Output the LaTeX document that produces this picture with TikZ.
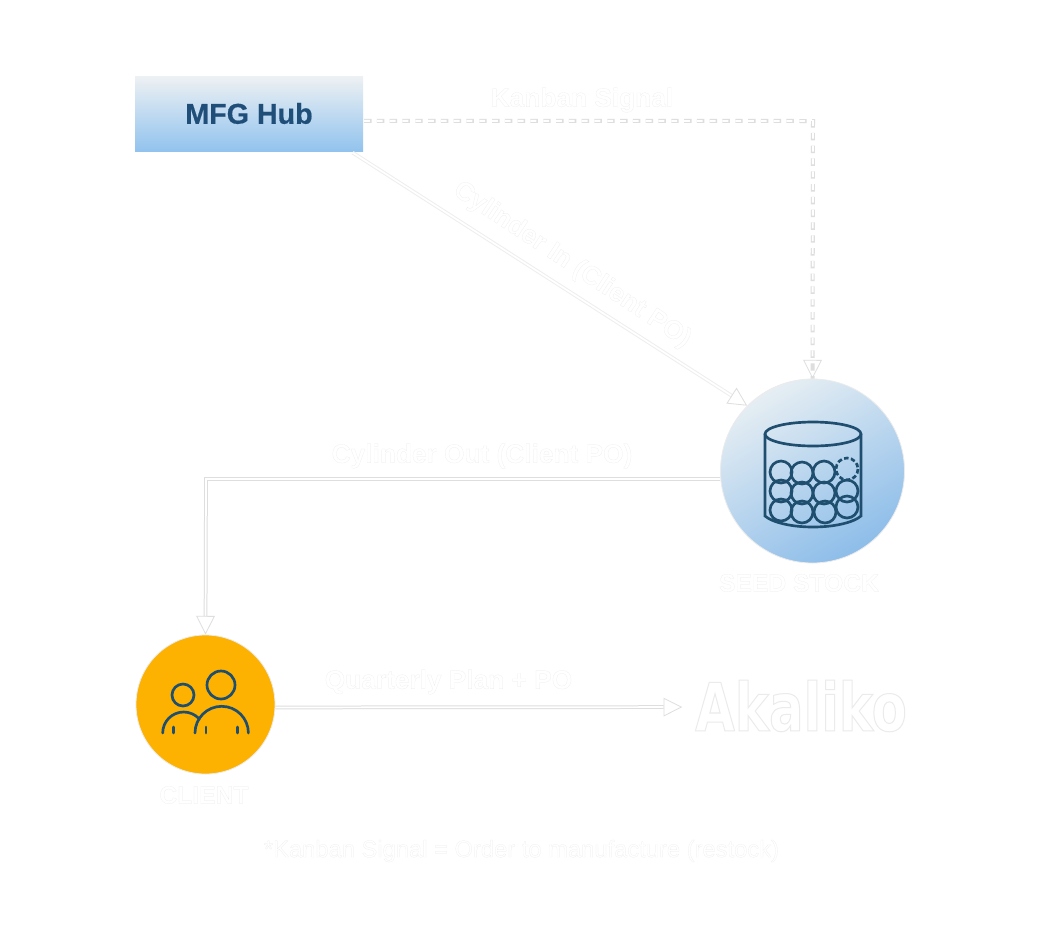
\documentclass[tikz,border=0pt]{standalone}
\usepackage{fontspec}
\usetikzlibrary{arrows.meta,shadings}
\setmainfont{Liberation Sans}
\newfontfamily\halofont[FakeBold=0.7]{Liberation Sans Bold}
\newfontfamily\halothin[FakeBold=0.8]{Liberation Sans}
\newfontfamily\hubfont[FakeBold=0.5]{Liberation Sans Bold}
\newfontfamily\halologo[FakeBold=1.5,FakeStretch=0.77]{DejaVu Sans Bold}
\definecolor{edgegray}{HTML}{DEDEDE}
\definecolor{faintgray}{HTML}{EEEEEE}
\definecolor{navy}{HTML}{1F4E79}
\definecolor{icon}{HTML}{1F4E6F}
\definecolor{gold}{HTML}{FDB100}
\definecolor{hubtop}{HTML}{EEF1F3}
\definecolor{hubbot}{HTML}{92C3EE}
\definecolor{stocklight}{HTML}{E6EEF3}
\definecolor{stockdark}{HTML}{8DBDE9}
\newcommand{\halotxt}[1]{\color{white}\special{pdf:code 0.92 0.92 0.92 RG}#1}
\tikzset{
  lab/.style={inner sep=0pt,font=\halofont\fontsize{19.7pt}{22pt}\selectfont},
  caplab/.style={inner sep=0pt,font=\halofont\fontsize{18.5pt}{22pt}\selectfont},
  solidlink/.style={draw=edgegray,line width=.75pt,double=white,double distance=1.3pt},
  tip/.style={-{Triangle[fill=white,color=edgegray,open,length=14pt,width=14pt,line width=.6pt]}},
  iconline/.style={draw=icon,line width=2pt,line cap=round},
}
\begin{document}
\begin{tikzpicture}[x=0.75pt,y=-0.75pt]
\useasboundingbox[fill=white] (0,0) rectangle (1040,940);
% nodes
\node[rectangle,minimum width=171pt,minimum height=56.25pt,inner sep=0pt,top color=hubtop,bottom color=hubbot,
  font=\hubfont\fontsize{21.5pt}{24pt}\selectfont,text=navy] (hub) at (249,113.5) {MFG Hub};
\node[circle,minimum size=138pt,inner sep=0pt,draw=edgegray!60,line width=.6pt,
  top color=stocklight,bottom color=stockdark,shading angle=30] (stock) at (812.5,471) {};
\node[circle,minimum size=104.25pt,inner sep=0pt,draw=edgegray!60,line width=.6pt,fill=gold] (client) at (205.5,704.5) {};
\node[inner sep=0pt,font=\halologo\fontsize{50pt}{54pt}\selectfont] (akaliko) at (801,706) {\halotxt{Akaliko}};
\node[caplab] (stocklabel) at (799,583) {\halotxt{SEED STOCK}};
\node[caplab] (clientlabel) at (204,795) {\halotxt{CLIENT}};
\node[lab] (kanbanlabel) at (582,100) {\halotxt{Kanban Signal}};
\node[lab,rotate=-33.5] (inlabel) at (572,265) {\halotxt{Cylinder In (Client PO)}};
\node[lab] (outlabel) at (482,456) {\halotxt{Cylinder Out (Client PO)}};
\node[lab] (planlabel) at (448.5,682) {\halotxt{Quarterly Plan + PO}};
\node[inner sep=0pt,font=\halothin\fontsize{17.8pt}{20pt}\selectfont] (footnote) at (521.5,851) {\halotxt{*Kanban Signal = Order to manufacture (restock)}};
% connectors
\draw[solidlink,draw=faintgray,tip] ([xshift=-8pt,yshift=-1pt]hub.south east) -- (stock.135);
\draw[solidlink,tip] ([yshift=-6pt]stock.west) -- (206,479) -- (client.north);
\draw[solidlink,tip] ([yshift=-2.2pt]client.east) -- ([xshift=-9.5pt,yshift=-.8pt]akaliko.west);
\draw[tip,white,line width=1.4pt,dash pattern=on 4.4pt off 5.2pt,dash phase=-.6pt,
  preaction={draw=edgegray,line width=3pt,dash pattern=on 5.6pt off 4pt,-}]
  ([yshift=-5.5pt]hub.east) -- (813,121) -- (stock.north);
% drum
\draw[iconline] (813,434) ellipse [x radius=48,y radius=12];
\draw[iconline] (765,434) -- (765,516) .. controls (772,522) and (790,527) .. (813,527) .. controls (836,527) and (854,522) .. (861,516) -- (861,434);
\foreach \p in {(781,472),(802,473),(824,472),(781,491),(802,493),(824,493),(847,491),(781,510),(802,512),(825,512),(847,507)}
  \draw[iconline] \p circle [radius=11];
\draw[iconline,dash pattern=on 3.4pt off 1.8pt,line cap=butt] (847,469) circle [radius=11];
% people
\draw[iconline] (183,695) circle [radius=11];
\draw[iconline] (221,685) circle [radius=14];
\draw[iconline] (195,733) arc [start angle=180,end angle=360,radius=26.7];
\draw[iconline] (162.7,733) arc [start angle=180,end angle=318,radius=21];
\foreach \x in {173.7,206,237.3}
  \draw[iconline] (\x,727) -- (\x,733);
\end{tikzpicture}
\end{document}
